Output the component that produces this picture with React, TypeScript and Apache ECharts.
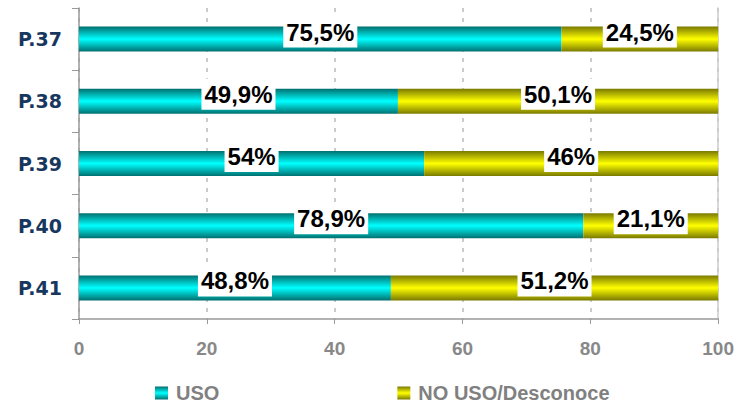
import React, { useEffect, useRef } from "react";
import * as echarts from "echarts";

const categories = ["P.37", "P.38", "P.39", "P.40", "P.41"];
const usoValues = [75.5, 49.9, 54, 78.9, 48.8];
const noUsoValues = [24.5, 50.1, 46, 21.1, 51.2];
const usoLabels = ["75,5%", "49,9%", "54%", "78,9%", "48,8%"];
const noUsoLabels = ["24,5%", "50,1%", "46%", "21,1%", "51,2%"];
const seriesNames = ["USO", "NO USO/Desconoce"];

const grad = (edge: string, mid: string) =>
  new echarts.graphic.LinearGradient(0, 0, 0, 1, [
    { offset: 0, color: edge },
    { offset: 0.5, color: mid },
    { offset: 1, color: edge },
  ]);

export default function App() {
  const ref = useRef<HTMLDivElement>(null);
  useEffect(() => {
    if (!ref.current) return;
    const chart = echarts.init(ref.current, null, { renderer: "svg" });
    const labelStyle = (labels: string[]) => ({
      show: true,
      position: "inside",
      offset: [0, -7],
      formatter: (p: any) => labels[p.dataIndex],
      color: "#000",
      fontFamily: "Liberation Sans",
      fontWeight: "bold",
      fontSize: 24,
      lineHeight: 26,
      backgroundColor: "#fff",
      padding: [3, 3, 2, 3],
    });
    chart.setOption({
      animation: false,
      grid: { left: 79, right: 18, top: 8, bottom: 85, containLabel: false },
      legend: {
        top: 383,
        left: 155,
        padding: 0,
        itemGap: 178,
        itemWidth: 13,
        itemHeight: 13,
        icon: "rect",
        textStyle: {
          color: "#808080",
          fontFamily: "Liberation Sans",
          fontWeight: "bold",
          fontSize: 20,
          padding: [0, 0, 0, 3],
        },
        data: seriesNames,
      },
      xAxis: {
        type: "value",
        min: 0,
        max: 100,
        interval: 20,
        axisLine: { show: true, lineStyle: { color: "#999", width: 1.5 } },
        axisTick: { show: true, length: 5, lineStyle: { color: "#999" } },
        axisLabel: {
          color: "#888",
          fontFamily: "Liberation Sans",
          fontWeight: "bold",
          fontSize: 19,
          margin: 20,
        },
        splitLine: {
          show: true,
          lineStyle: { color: "#bbb", type: [4, 6], width: 1.5 },
        },
      },
      yAxis: [
        {
          type: "category",
          data: categories,
          inverse: true,
          axisLine: { show: true, lineStyle: { color: "#999", width: 1.5 } },
          axisTick: { show: true, length: 7, lineStyle: { color: "#999" } },
          axisLabel: {
            color: "#17375E",
            fontFamily: "DejaVu Sans",
            fontWeight: "bold",
            fontSize: 19,
            margin: 17,
          },
        },
        {
          type: "category",
          data: categories,
          inverse: true,
          position: "right",
          axisLine: { show: true, lineStyle: { color: "#ccc", width: 1.5 } },
          axisTick: { show: false },
          axisLabel: { show: false },
          splitLine: { show: false },
        },
      ],
      series: [
        {
          name: seriesNames[0],
          type: "bar",
          stack: "total",
          barWidth: 25,
          data: usoValues,
          itemStyle: { color: grad("#007070", "#00FFFF") },
          label: labelStyle(usoLabels),
          z: 2,
        },
        {
          name: seriesNames[1],
          type: "bar",
          stack: "total",
          barWidth: 25,
          data: noUsoValues,
          itemStyle: { color: grad("#7A7A00", "#FFFF00") },
          label: labelStyle(noUsoLabels),
          z: 2,
        },
      ],
    });
    return () => chart.dispose();
  }, []);
  return (
    <div
      ref={ref}
      style={{ position: "absolute", left: 0, top: 0, width: 737, height: 404 }}
    />
  );
}
